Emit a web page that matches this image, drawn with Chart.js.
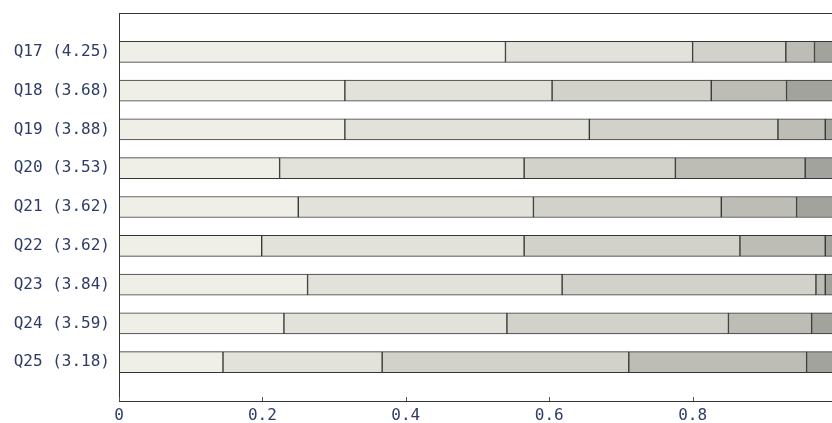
<!DOCTYPE html>
<html lang="en">
<head>
    <meta charset="UTF-8">
    <title>Q17-Q25 response shares</title>
    <style>
        html, body {
            margin: 0;
            padding: 0;
            background: #fff;
            overflow: hidden;
        }
        #wrap {
            width: 832px;
            height: 423px;
            overflow: hidden;
        }
        #chartBox {
            width: 850px;
            height: 423px;
        }
    </style>
</head>
<body>

<div id="wrap">
    <div id="chartBox">
        <canvas id="chart"></canvas>
    </div>
</div>

<script src="https://cdn.jsdelivr.net/npm/chart.js"></script>
<script>
    // questions and their mean scores (shown in the axis labels)
    const questions = ['Q17', 'Q18', 'Q19', 'Q20', 'Q21', 'Q22', 'Q23', 'Q24', 'Q25'];
    const means = ['4.25', '3.68', '3.88', '3.53', '3.62', '3.62', '3.84', '3.59', '3.18'];

    // share of answers per level (left = 5 ... right = 1)
    const level5 = [0.539, 0.315, 0.315, 0.224, 0.250, 0.199, 0.263, 0.230, 0.145];
    const level4 = [0.261, 0.289, 0.341, 0.341, 0.328, 0.366, 0.355, 0.311, 0.222];
    const level3 = [0.130, 0.222, 0.263, 0.211, 0.262, 0.301, 0.354, 0.309, 0.344];
    const level2 = [0.040, 0.105, 0.066, 0.181, 0.105, 0.119, 0.013, 0.116, 0.248];
    const level1 = [0.030, 0.069, 0.015, 0.043, 0.055, 0.015, 0.015, 0.034, 0.041];

    const xTicks = [0, 0.2, 0.4, 0.6, 0.8, 1];

    const levelColors = ['#efefe7', '#e2e2da', '#d2d2cb', '#bdbdb6', '#a3a39e'];
    const inkColor = '#2e3b66';
    const lineColor = '#353535';

    // empty slot above and below the bars
    const labels = [''].concat(questions.map((q, i) => `${q} (${means[i]})`), ['']);
    const pad = arr => [null].concat(arr, [null]);

    const series = [level5, level4, level3, level2, level1];
    const datasets = series.map((arr, i) => ({
        label: String(5 - i),
        data: pad(arr),
        backgroundColor: levelColors[i],
        borderColor: lineColor,
        borderWidth: 1,
        borderSkipped: false,
        barThickness: 21
    }));

    // box round the plot plus short inward ticks on the x axis
    const frame = {
        id: 'frame',
        afterDraw(chart) {
            const ctx = chart.ctx;
            const a = chart.chartArea;
            const xs = chart.scales.x;
            ctx.save();
            ctx.strokeStyle = lineColor;
            ctx.lineWidth = 1;
            ctx.strokeRect(Math.round(a.left) + 0.5, Math.round(a.top) + 0.5,
                Math.round(a.right - a.left), Math.round(a.bottom - a.top));
            ctx.strokeStyle = '#555';
            xTicks.forEach(v => {
                const px = Math.round(xs.getPixelForValue(v)) + 0.5;
                ctx.beginPath();
                ctx.moveTo(px, a.bottom);
                ctx.lineTo(px, a.bottom - 4);
                ctx.stroke();
            });
            ctx.restore();
        }
    };

    const ctx = document.getElementById('chart').getContext('2d');
    new Chart(ctx, {
        type: 'bar',
        data: { labels: labels, datasets: datasets },
        options: {
            indexAxis: 'y',
            responsive: true,
            maintainAspectRatio: false,
            animation: false,
            layout: { padding: { top: 12, right: 14, bottom: 0, left: 0 } },
            plugins: {
                legend: { display: false },
                tooltip: { enabled: false }
            },
            scales: {
                x: {
                    stacked: true,
                    min: 0,
                    max: 1,
                    grid: { display: false, drawTicks: false },
                    border: { display: false },
                    afterFit(scale) { scale.height = 22; },
                    ticks: {
                        stepSize: 0.2,
                        padding: 5,
                        color: inkColor,
                        font: { family: "'DejaVu Sans Mono', monospace", size: 16 },
                        callback: v => String(+v.toFixed(1))
                    }
                },
                y: {
                    stacked: true,
                    offset: false,
                    grid: { display: false, drawTicks: false },
                    border: { display: false },
                    afterFit(scale) { scale.width = 119; },
                    ticks: {
                        padding: 9,
                        autoSkip: false,
                        color: inkColor,
                        font: { family: "'DejaVu Sans Mono', monospace", size: 16, lineHeight: 0.5 }
                    }
                }
            }
        },
        plugins: [frame]
    });
</script>
</body>
</html>
